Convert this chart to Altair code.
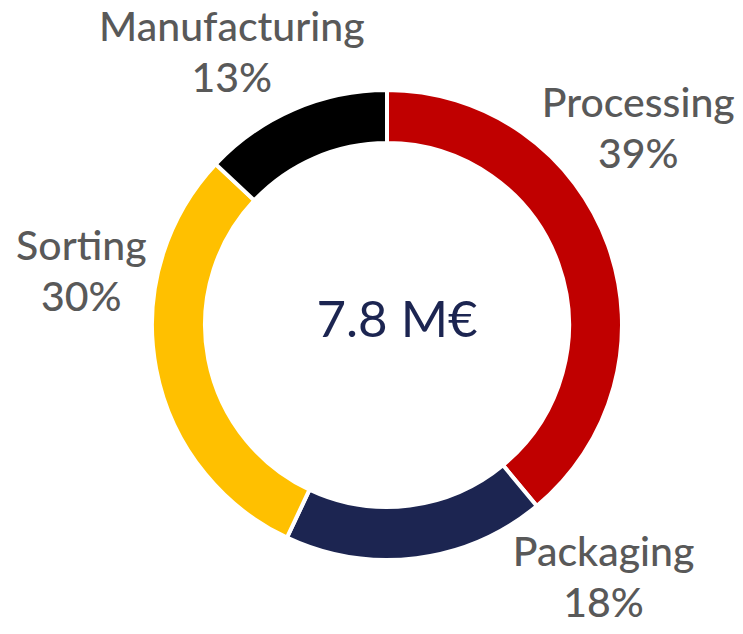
import altair as alt
import pandas as pd

categories = ["Processing", "Packaging", "Sorting", "Manufacturing"]
shares = [39, 18, 30, 13]
colors = ["#C00000", "#1C2551", "#FFC000", "#000000"]
center_text = "7.8 M€"

df = pd.DataFrame({
    "category": categories,
    "share": shares,
    "idx": list(range(len(categories))),
})
df["label"] = df["category"] + "\n" + df["share"].astype(str) + "%"

CX, CY = 379, 317
LABEL_R = 300
# per-label nudges (layout only)
nudges = {
    "Processing": (-31, -118),
    "Packaging": (179, -69),
    "Sorting": (-11, -133),
    "Manufacturing": (-36, -21),
}

base = alt.Chart(df).encode(
    theta=alt.Theta("share:Q", stack=True),
    order=alt.Order("idx:Q"),
    x=alt.value(CX),
    y=alt.value(CY),
)

arcs = base.mark_arc(outerRadius=235, innerRadius=182, stroke="white", strokeWidth=4).encode(
    color=alt.Color("category:N", scale=alt.Scale(domain=categories, range=colors), legend=None)
)

layers = [arcs]
for cat in categories:
    dx, dy = nudges[cat]
    layers.append(
        base.transform_calculate(
            t=f"datum.category === '{cat}' ? datum.label : ''"
        ).mark_text(
            radius=LABEL_R, dx=dx, dy=dy, font="Lato", fontSize=41, fontWeight=500,
            color="#595959", lineBreak="\n", lineHeight=51,
            align="center", baseline="middle",
        ).encode(text="t:N")
    )

center = alt.Chart(pd.DataFrame({"t": [center_text]})).mark_text(
    font="Lato", fontSize=51, color="#1C2551", align="center", baseline="middle"
).encode(text="t:N", x=alt.value(CX + 10), y=alt.value(CY - 3))
layers.append(center)

chart = alt.layer(*layers).properties(
    width=727, height=618, padding=0,
    autosize=alt.AutoSizeParams(type="none"),
).configure_view(stroke=None)

chart.save("out.html", embed_options={"renderer": "svg", "actions": False})
